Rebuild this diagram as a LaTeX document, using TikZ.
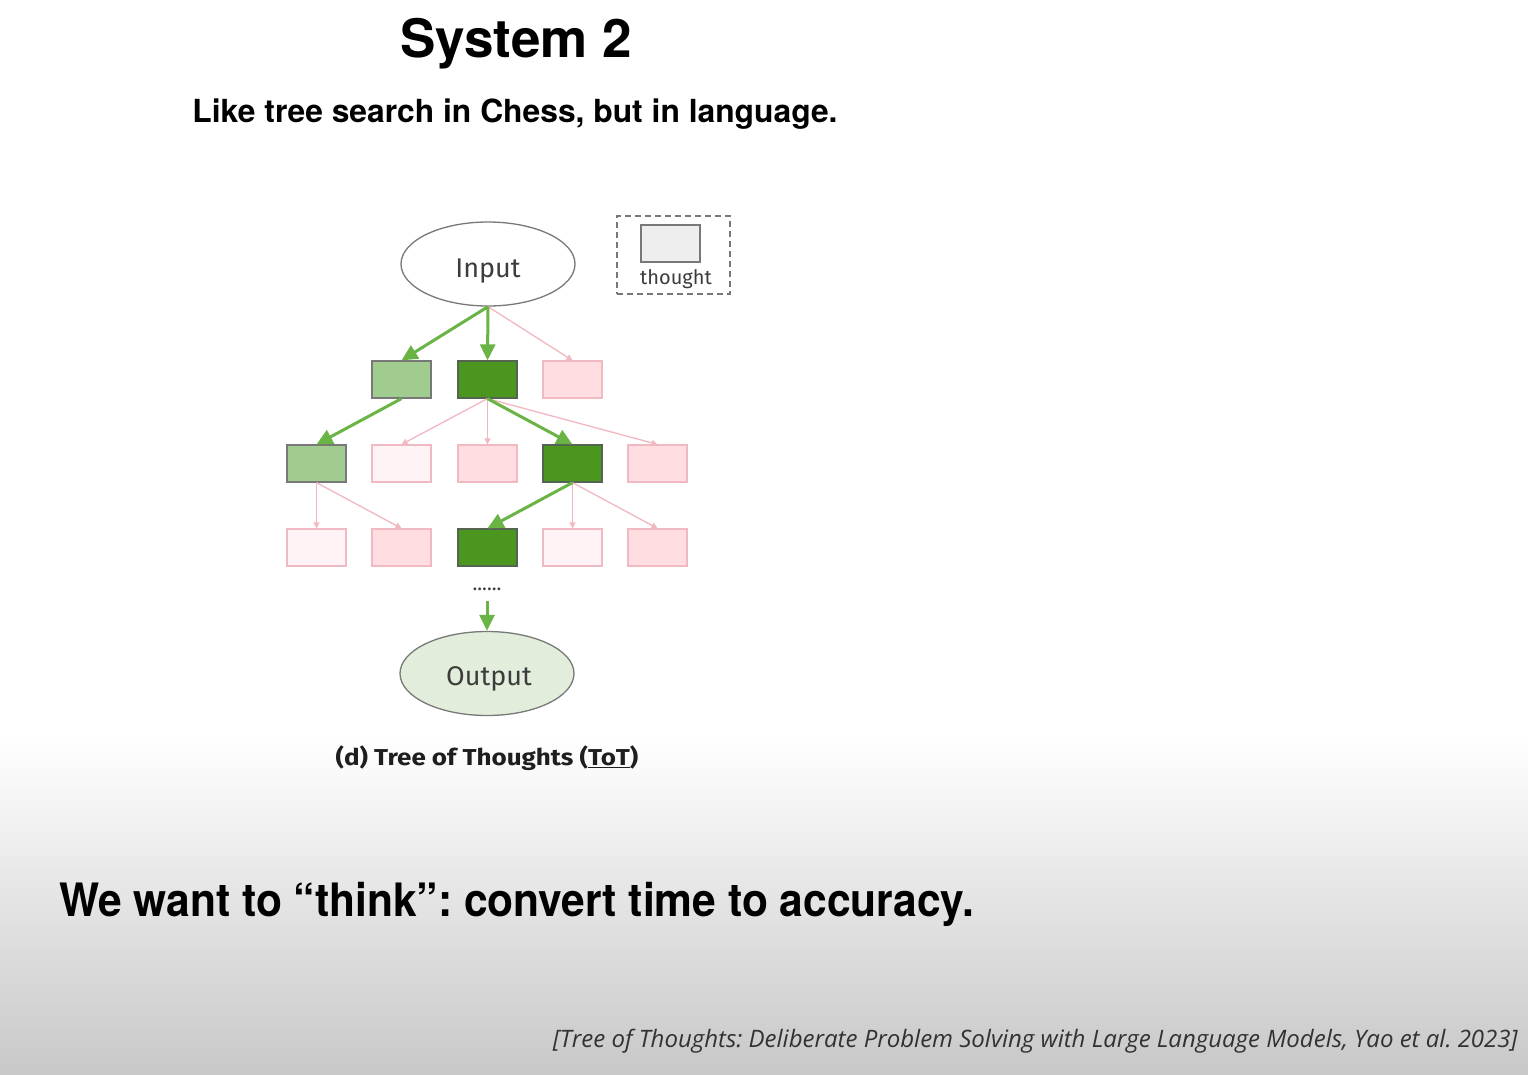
\documentclass[tikz,border=0pt]{standalone}
\usepackage{fontspec}
\setmainfont{TeX Gyre Heros}
\newfontfamily\diagfont{Fira Sans}
\newfontfamily\citefont{Open Sans}
\usetikzlibrary{arrows.meta,shapes.geometric}
\definecolor{lgreen}{RGB}{160,204,143}
\definecolor{dgreen}{RGB}{74,150,30}
\definecolor{pinkf}{RGB}{255,221,225}
\definecolor{pinkd}{RGB}{241,186,194}
\definecolor{vpink}{RGB}{255,243,245}
\definecolor{garrow}{RGB}{106,180,70}
\definecolor{parrow}{RGB}{241,184,192}
\definecolor{outf}{RGB}{226,238,219}
\definecolor{bordg}{RGB}{120,120,120}
\definecolor{dtext}{RGB}{60,60,60}
\tikzset{
  thbox/.style={rectangle,minimum width=59pt,minimum height=37pt,inner sep=0pt,line width=1.2pt},
  lgbox/.style={thbox,fill=lgreen,draw=bordg},
  dgbox/.style={thbox,fill=dgreen,draw={rgb,255:red,85;green,100;blue,80}},
  pkbox/.style={thbox,fill=pinkf,draw=pinkd},
  vpbox/.style={thbox,fill=vpink,draw=pinkd},
  ell/.style={ellipse,minimum width=174pt,minimum height=84pt,inner sep=0pt,line width=1.3pt,draw=bordg},
  elltxt/.style={anchor=base,inner sep=0pt,font=\diagfont\fontsize{27}{30}\selectfont,text=dtext},
  garr/.style={draw=garrow,line width=3pt,-{Triangle[length=16pt,width=15pt]}},
  parr/.style={draw=parrow,line width=1.3pt,-{Triangle[length=6pt,width=6pt]}}
}
\begin{document}
\frenchspacing
\begin{tikzpicture}[x=1pt,y=-1pt]
\useasboundingbox (0,0) rectangle (1528,1074);
\fill[white] (0,0) rectangle (1528,735);
\shade[top color=white,bottom color={rgb,255:red,200;green,200;blue,200}] (0,735) rectangle (1528,1074);

% titles
\node[anchor=base,inner sep=0pt,font=\bfseries\fontsize{53}{58}\selectfont] (title) at (516,57) {System 2};
\node[anchor=base,inner sep=0pt,font=\bfseries\fontsize{31.8}{36}\selectfont] (sub) at (515,122) {Like tree search in Chess, but in language.};

% legend
\node[draw=bordg,dash pattern=on 6pt off 4pt,line width=1.2pt,minimum width=113pt,minimum height=78pt,inner sep=0pt] (leg) at (673.5,255) {};
\node[thbox,fill={rgb,255:red,238;green,238;blue,238},draw=bordg] (legbox) at (670.5,243.5) {};
\node[anchor=base,font=\diagfont\fontsize{20}{22}\selectfont,text=dtext,inner sep=0pt] (legtxt) at (676,284) {thought};

% input / output
\node[ell,fill=white] (in) at (488,264) {};
\node[elltxt] (intxt) at (488,277) {Input};
\node[ell,fill=outf] (out) at (487,673.5) {};
\node[elltxt] (outtxt) at (489,685) {Output};

% row 1
\node[lgbox] (a1) at (401.5,379.5) {};
\node[dgbox] (a2) at (487.5,379.5) {};
\node[pkbox] (a3) at (572.5,379.5) {};
% row 2
\node[lgbox] (b1) at (316.5,463.5) {};
\node[vpbox] (b2) at (401.5,463.5) {};
\node[pkbox] (b3) at (487.5,463.5) {};
\node[dgbox] (b4) at (572.5,463.5) {};
\node[pkbox] (b5) at (657.5,463.5) {};
% row 3
\node[vpbox] (c1) at (316.5,547.5) {};
\node[pkbox] (c2) at (401.5,547.5) {};
\node[dgbox] (c3) at (487.5,547.5) {};
\node[vpbox] (c4) at (572.5,547.5) {};
\node[pkbox] (c5) at (657.5,547.5) {};

% dots
\node[font=\diagfont\fontsize{20}{20}\selectfont,text height=0pt,text depth=0pt,minimum height=22pt,inner sep=0pt,text=dtext] (dots) at (487,590) {......};

% edges
\draw[parr] (in.south) -- (a3.north);
\draw[garr] (in.south) -- (a1.north);
\draw[garr] (in.south) -- (a2.north);

\draw[garr] (a1.south) -- (b1.north);
\draw[parr] (a2.south) -- (b2.north);
\draw[parr] (a2.south) -- (b3.north);
\draw[parr] (a2.south) -- (b5.north);
\draw[garr] (a2.south) -- (b4.north);

\draw[parr] (b1.south) -- (c1.north);
\draw[parr] (b1.south) -- (c2.north);
\draw[parr] (b4.south) -- (c4.north);
\draw[parr] (b4.south) -- (c5.north);
\draw[garr] (b4.south) -- (c3.north);

\draw[garr] (dots.south) -- (out.north);

% caption
\node[anchor=base,inner sep=0pt,font=\diagfont\bfseries\fontsize{23}{26}\selectfont,text={rgb,255:red,30;green,30;blue,30}] (cap) at (487,765) {\scalebox{1.13}[1]{(d) Tree of Thoughts (\underline{ToT})}};

% bottom texts
\node[anchor=base west,inner sep=0pt,font=\bfseries\fontsize{46}{50}\selectfont] (main) at (59,916) {\scalebox{0.925}[1]{We want to “think”: convert time to accuracy.}};
\node[anchor=base east,inner sep=0pt,font=\citefont\itshape\fontsize{24}{26}\selectfont,text={rgb,255:red,50;green,50;blue,50}] (cite) at (1518,1047) {[Tree of Thoughts: Deliberate Problem Solving with Large Language Models, Yao et al. 2023]};
\end{tikzpicture}
\end{document}
